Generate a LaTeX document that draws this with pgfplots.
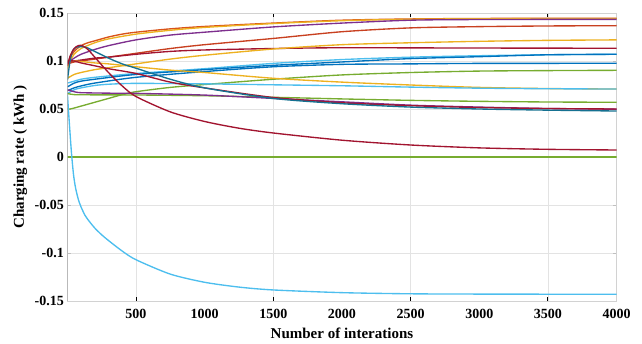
\documentclass[border=0pt]{standalone}
\usepackage{fontspec}
\setmainfont{Liberation Serif}
\usepackage{pgfplots}
\pgfplotsset{compat=1.18}
\definecolor{mblue}{RGB}{0,114,189}
\definecolor{morange}{RGB}{217,83,25}
\definecolor{myellow}{RGB}{237,177,32}
\definecolor{mpurple}{RGB}{126,47,142}
\definecolor{mgreen}{RGB}{119,172,48}
\definecolor{mcyan}{RGB}{77,190,238}
\definecolor{mmaroon}{RGB}{162,20,47}
\begin{document}
\begin{tikzpicture}
\begin{axis}[
  name=ax,
  scale only axis,
  width=549.3pt, height=288pt,
  xmin=0, xmax=4000, ymin=-0.15, ymax=0.15,
  xtick={500,1500,2500,3500},
  xticklabels={500,1500,2500,3500},
  extra x ticks={1000,2000,3000,4000},
  extra x tick labels={1000,2000,3000,4000},
  extra x tick style={grid=none, major tick length=0pt},
  ytick={-0.15,-0.1,-0.05,0,0.05,0.1,0.15},
  yticklabels={-0.15,-0.1,-0.05,0,0.05,0.1,0.15},
  xmajorgrids, ymajorgrids,
  major grid style={gray!22, line width=0.6pt},
  axis line style={gray!35, line width=0.6pt},
  tick align=inside,
  major tick length=4pt,
  xtick style={black, line width=0.9pt},
  ytick style={gray!50, line width=0.6pt},
  ticklabel style={font=\fontsize{14}{16}\selectfont\bfseries},
  xticklabel style={yshift=-5pt},
  xlabel={Number of interations},
  ylabel={Charging rate ( kWh )},
  label style={font=\fontsize{15}{18}\selectfont\bfseries},
  xlabel style={at={(axis description cs:0.5,-0.111)}, anchor=center},
  ylabel style={at={(axis description cs:-0.0855,0.5)}, anchor=center},
  every axis plot/.append style={line width=1.35pt, smooth, tension=0.45, mark=none},
]
% orange top
\addplot[morange] coordinates {(1,0.095)(20,0.103)(50,0.110)(100,0.116)(150,0.119)(200,0.121)(300,0.125)(400,0.128)(500,0.130)(750,0.1335)(1000,0.136)(1500,0.1395)(2000,0.1425)(2500,0.1438)(3000,0.1443)(3500,0.1445)(4000,0.1445)};
% yellow top
\addplot[myellow] coordinates {(1,0.092)(20,0.100)(50,0.107)(100,0.113)(200,0.119)(300,0.123)(500,0.128)(750,0.132)(1000,0.135)(1500,0.139)(2000,0.142)(2500,0.1435)(3000,0.144)(4000,0.1443)};
% purple top
\addplot[mpurple] coordinates {(1,0.098)(20,0.100)(50,0.103)(100,0.107)(200,0.112)(300,0.116)(500,0.122)(750,0.127)(1000,0.130)(1500,0.1355)(2000,0.1395)(2500,0.1425)(3000,0.1432)(4000,0.1434)};
% red
\addplot[morange!70!mmaroon] coordinates {(1,0.097)(50,0.099)(100,0.100)(200,0.102)(300,0.104)(500,0.108)(750,0.113)(1000,0.117)(1500,0.1235)(2000,0.1305)(2500,0.1345)(3000,0.1358)(3500,0.1365)(4000,0.1368)};
% maroon flat
\addplot[mmaroon] coordinates {(1,0.099)(50,0.100)(100,0.101)(200,0.103)(300,0.104)(500,0.107)(750,0.110)(1000,0.1115)(1500,0.113)(2000,0.1138)(3000,0.1135)(4000,0.1133)};
% yellow rising
\addplot[myellow] coordinates {(1,0.082)(50,0.086)(100,0.088)(200,0.091)(300,0.093)(500,0.097)(750,0.102)(1000,0.106)(1500,0.1125)(2000,0.117)(2500,0.119)(3000,0.1205)(3500,0.1215)(4000,0.122)};
% cyan rising
\addplot[mcyan] coordinates {(1,0.077)(50,0.079)(100,0.081)(200,0.083)(500,0.087)(1000,0.092)(1500,0.0975)(2000,0.1015)(2500,0.104)(3000,0.1055)(3500,0.1065)(4000,0.107)};
% blue rising to 0.107
\addplot[mblue] coordinates {(1,0.073)(50,0.077)(100,0.079)(200,0.081)(500,0.086)(1000,0.091)(1500,0.0955)(2000,0.099)(2500,0.1025)(3000,0.1045)(3500,0.1065)(4000,0.107)};
% blue rising to 0.0976
\addplot[mblue] coordinates {(1,0.069)(50,0.072)(100,0.074)(200,0.077)(500,0.083)(1000,0.089)(1500,0.094)(2000,0.0965)(2500,0.097)(3000,0.0975)(4000,0.0976)};
% green rising
\addplot[mgreen] coordinates {(1,0.050)(20,0.050)(50,0.051)(100,0.053)(200,0.057)(300,0.061)(400,0.065)(500,0.068)(750,0.0725)(1000,0.0755)(1500,0.081)(2000,0.0855)(2500,0.088)(3000,0.0895)(3500,0.090)(4000,0.0903)};
% yellow descending
\addplot[myellow] coordinates {(1,0.100)(50,0.100)(100,0.0995)(200,0.098)(300,0.097)(500,0.094)(750,0.0905)(1000,0.088)(1500,0.082)(2000,0.078)(2500,0.075)(3000,0.0725)(3500,0.0713)(4000,0.0708)};
% cyan flat
\addplot[mcyan] coordinates {(1,0.066)(50,0.070)(100,0.072)(200,0.0745)(300,0.0758)(500,0.0767)(1000,0.0762)(1500,0.0752)(2000,0.0742)(2500,0.0728)(3000,0.0717)(3500,0.0711)(4000,0.0708)};
% green flat
\addplot[mgreen] coordinates {(1,0.066)(50,0.065)(100,0.0648)(500,0.0646)(1000,0.0638)(1500,0.0622)(2000,0.0605)(2500,0.059)(3000,0.058)(3500,0.0573)(4000,0.057)};
% purple flat then down
\addplot[mpurple] coordinates {(1,0.070)(50,0.068)(100,0.067)(300,0.0665)(500,0.0663)(1000,0.0645)(1500,0.061)(2000,0.0575)(2500,0.054)(3000,0.052)(3500,0.0505)(4000,0.0498)};
% maroon descending to 0.05
\addplot[mmaroon] coordinates {(1,0.100)(50,0.100)(100,0.098)(200,0.095)(300,0.092)(500,0.087)(750,0.078)(1000,0.072)(1500,0.062)(2000,0.0565)(2500,0.0535)(3000,0.0515)(3500,0.0505)(4000,0.050)};
% teal peak then down
\addplot[mblue!80!mgreen!90!black] coordinates {(1,0.080)(20,0.100)(40,0.111)(70,0.1145)(110,0.115)(150,0.1135)(200,0.110)(300,0.103)(400,0.097)(500,0.0925)(750,0.081)(1000,0.072)(1500,0.061)(2000,0.0555)(2500,0.052)(3000,0.050)(3500,0.0488)(4000,0.0479)};
% maroon peak then decay
\addplot[mmaroon] coordinates {(1,0.095)(20,0.105)(50,0.113)(80,0.116)(110,0.116)(150,0.112)(200,0.104)(300,0.088)(400,0.074)(500,0.063)(750,0.047)(1000,0.037)(1250,0.030)(1500,0.025)(2000,0.0175)(2500,0.0125)(3000,0.0095)(3500,0.008)(4000,0.0073)};
% green zero
\addplot[mgreen] coordinates {(1,0)(4000,0)};
% cyan bottom
\addplot[mcyan] coordinates {(1,0.065)(15,0.035)(30,0.005)(45,-0.018)(60,-0.032)(80,-0.044)(100,-0.052)(130,-0.061)(160,-0.067)(200,-0.074)(250,-0.081)(300,-0.087)(400,-0.098)(500,-0.107)(750,-0.122)(1000,-0.1305)(1250,-0.1355)(1500,-0.1385)(2000,-0.1413)(2500,-0.1425)(3000,-0.1428)(3500,-0.1429)(4000,-0.143)};
\draw[gray!65, line width=0.9pt] (axis description cs:0,0) -- (axis description cs:0,1);
\end{axis}
\pgfresetboundingbox
\path[use as bounding box] ([xshift=-67.3pt,yshift=-42pt]ax.south west) rectangle ([xshift=25.4pt,yshift=13pt]ax.north east);
\end{tikzpicture}
\end{document}
